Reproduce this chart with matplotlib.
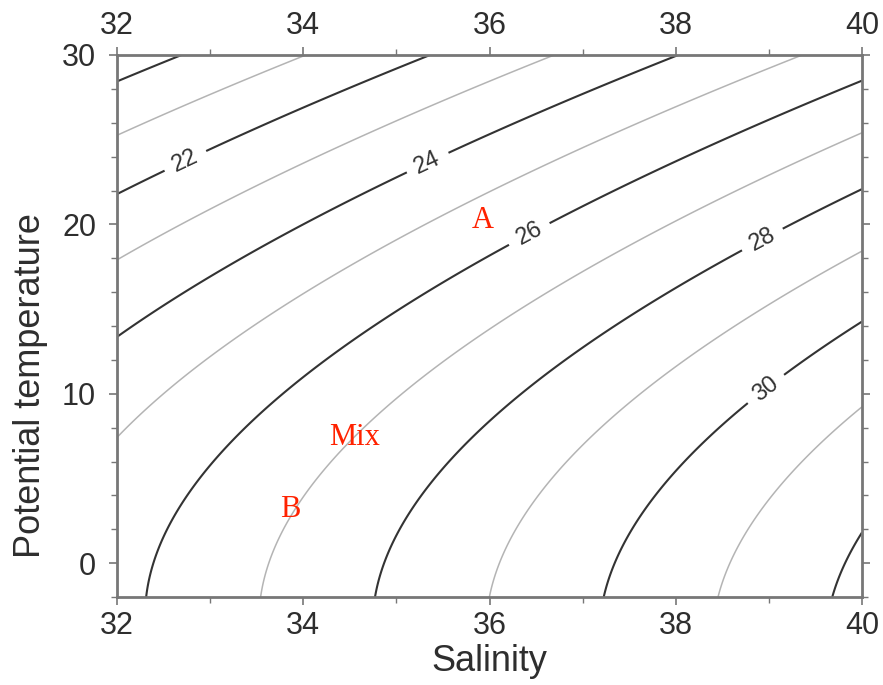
import numpy as np
import matplotlib
matplotlib.use("Agg")
import matplotlib.pyplot as plt

# ---- data ----
salinity_range = [32.0, 40.0]
temperature_range = [-2.0, 30.0]
major_levels = [20, 22, 24, 26, 28, 30, 32]
minor_levels = [21, 23, 25, 27, 29, 31]
x_ticks = [32, 34, 36, 38, 40]
y_ticks = [0, 10, 20, 30]
label_positions = [(32.73, 23.8), (35.34, 23.6), (36.44, 19.3), (38.95, 18.9), (38.98, 10.2)]
point_names = ["A", "Mix", "B"]
point_S = [35.93, 34.55, 33.86]
point_T = [20.2, 7.44, 3.19]

# UNESCO EOS-80 coefficients (surface pressure)
rho_w_coef = [999.842594, 6.793952e-2, -9.095290e-3, 1.001685e-4, -1.120083e-6, 6.536332e-9]
b_coef = [8.24493e-1, -4.0899e-3, 7.6438e-5, -8.2467e-7, 5.3875e-9]
c_coef = [-5.72466e-3, 1.0227e-4, -1.6546e-6]
d_coef = 4.8314e-4


def sigma0(S, T):
    rw = sum(c * T**i for i, c in enumerate(rho_w_coef))
    b = sum(c * T**i for i, c in enumerate(b_coef))
    c = sum(cc * T**i for i, cc in enumerate(c_coef))
    return rw + b * S + c * S**1.5 + d_coef * S**2 - 1000.0


S = np.linspace(salinity_range[0], salinity_range[1], 241)
T = np.linspace(temperature_range[0], temperature_range[1], 241)
SS, TT = np.meshgrid(S, T)
SIG = sigma0(SS, TT)

fig = plt.figure(figsize=(8.83, 6.85), dpi=100)
ax = fig.add_axes([117/883, 1-597/685, (862-117)/883, (597-55)/685])

ax.contour(SS, TT, SIG, levels=minor_levels, colors="#b4b4b4", linewidths=1.1)
cs = ax.contour(SS, TT, SIG, levels=major_levels, colors="#333333", linewidths=1.5)
labels = ax.clabel(cs, manual=label_positions,
                   fmt="%d", fontsize=17, inline=True, inline_spacing=8, colors="#333333")
for t in labels:
    t.set_fontfamily("Liberation Sans")

for name, s, t in zip(point_names, point_S, point_T):
    ax.text(s, t, name, color="#ff2200", fontsize=22, family="Liberation Serif",
            ha="center", va="center")

ax.set_xlim(salinity_range)
ax.set_ylim(temperature_range)
ax.set_xticks(x_ticks)
ax.set_yticks(y_ticks)
ax.set_xticks(np.arange(33, 40, 2), minor=True)
ax.set_yticks(np.arange(-2, 31, 2), minor=True)

ax.tick_params(which="both", direction="out", colors="#777777", labelcolor="#2e2e2e",
               top=True, right=True, labeltop=True, labelright=False)
ax.tick_params(which="major", length=6, width=1.2, labelsize=22)
ax.tick_params(which="minor", length=4, width=1.0)
ax.tick_params(axis="x", which="major", pad=4)
ax.tick_params(axis="y", which="major", pad=9)
for lab in ax.get_xticklabels() + ax.get_yticklabels():
    lab.set_fontfamily("Liberation Sans")

for sp in ax.spines.values():
    sp.set_color("#777777")
    sp.set_linewidth(2.0)

ax.set_xlabel("Salinity", fontsize=26, family="Liberation Sans", color="#2e2e2e", labelpad=2)
ax.set_ylabel("Potential temperature", fontsize=26, family="Liberation Sans", color="#2e2e2e")
ax.yaxis.set_label_coords(-0.093, 0.39)

fig.savefig("out.png", dpi=100)
